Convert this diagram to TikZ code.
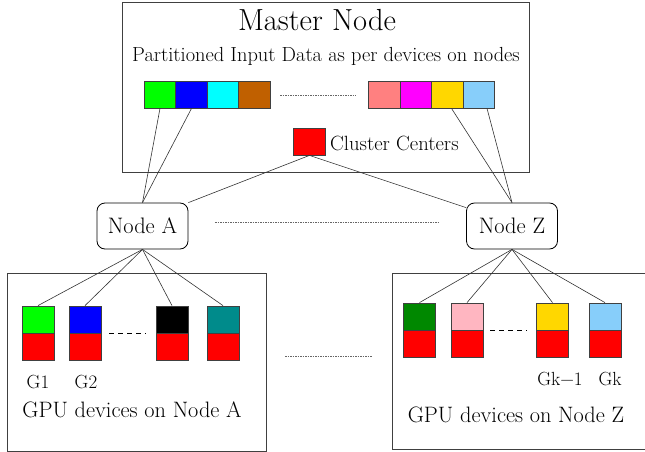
\documentclass[tikz,border=0pt]{standalone}
\usepackage{fontspec}
\usetikzlibrary{calc}
\definecolor{cgreen}{HTML}{00FF00}
\definecolor{cblue}{HTML}{0000FF}
\definecolor{ccyan}{HTML}{00FFFF}
\definecolor{cmagenta}{HTML}{FF00FF}
\definecolor{cred}{HTML}{FF0000}
\definecolor{cbrown}{HTML}{C06000}
\definecolor{csalmon}{HTML}{FF8080}
\definecolor{cgold}{HTML}{FFD700}
\definecolor{csky}{HTML}{87CEFA}
\definecolor{cteal}{HTML}{008B8B}
\definecolor{cdgreen}{HTML}{008800}
\definecolor{cpink}{HTML}{FFB6C1}
\definecolor{frame}{HTML}{404040}
\tikzset{
  panel/.style={draw=frame, line width=0.9pt},
  cell/.style={draw=frame, line width=0.8pt, inner sep=0pt, minimum width=31.5pt, minimum height=27pt},
  gcell/.style={draw=frame, line width=0.8pt, inner sep=0pt, minimum width=32pt, minimum height=27pt},
  hostnode/.style={draw=black, line width=0.8pt, rounded corners=8pt, minimum width=91pt, minimum height=46pt, font=\fontsize{22.4}{26}\selectfont},
  link/.style={draw=black!80, line width=0.6pt},
  gap/.style={draw=black!60, line width=0.6pt, dash pattern=on 1.5pt off 1pt},
  skip/.style={draw=black, line width=0.8pt, dash pattern=on 5pt off 4pt},
  lbl/.style={inner sep=0pt, font=\fontsize{19}{22}\selectfont},
  caption/.style={inner sep=0pt, font=\fontsize{22.3}{26}\selectfont},
}
\begin{document}
\begin{tikzpicture}[x=1pt, y=-1pt]
\useasboundingbox (0,0) rectangle (645,452);

% master node panel
\draw[panel] (122,2) rectangle (529,172);
\node[inner sep=0pt, font=\fontsize{30.5}{34}\selectfont] (title) at (317,20) {Master Node};
\node[inner sep=0pt, font=\fontsize{20.4}{24}\selectfont] (part) at (326,56) {Partitioned Input Data as per devices on nodes};

% partitioned input data
\node[cell, fill=cgreen]   (d1) at (160,94.5) {};
\node[cell, fill=cblue]    (d2) at (191.5,94.5) {};
\node[cell, fill=ccyan]    (d3) at (223,94.5) {};
\node[cell, fill=cbrown]   (d4) at (254.5,94.5) {};
\node[cell, fill=csalmon]  (d5) at (384.5,94.5) {};
\node[cell, fill=cmagenta] (d6) at (416,94.5) {};
\node[cell, fill=cgold]    (d7) at (447.5,94.5) {};
\node[cell, fill=csky]     (d8) at (479,94.5) {};
\coordinate (dgapL) at (280,95);
\coordinate (dgapR) at (356,95);
\draw[gap] (dgapL) -- (dgapR);

% cluster centers
\node[cell, fill=cred] (cc) at (309.5,141.5) {};
\node[inner sep=0pt, anchor=west, font=\fontsize{20.6}{24}\selectfont] (cclbl) at (330,143) {Cluster Centers};

% compute nodes
\node[hostnode] (na) at (142.5,226) {Node A};
\node[hostnode] (nz) at (512,226) {Node Z};
\coordinate (ngapL) at (215,222);
\coordinate (ngapR) at (438,222);
\draw[gap] (ngapL) -- (ngapR);

\draw[link] (d1.south) -- (na.north);
\draw[link] (d2.south) -- (na.north);
\draw[link] ($(d7.south)+(4,0)$) -- (nz.north);
\draw[link] ($(d8.south)+(8,0)$) -- (nz.north);
\draw[link] (cc.south) -- (na.north east);
\draw[link] (cc.south) -- ($(nz.north west)+(0,5)$);

% GPU panel of node A
\draw[panel] (7,273) rectangle (266,451);
\node[gcell, fill=cgreen] (a1) at (38,319.5) {};
\node[gcell, fill=cred, anchor=north] (a1r) at (a1.south) {};
\node[gcell, fill=cblue] (a2) at (85,319.5) {};
\node[gcell, fill=cred, anchor=north] (a2r) at (a2.south) {};
\node[gcell, fill=black] (a3) at (172,319.5) {};
\node[gcell, fill=cred, anchor=north] (a3r) at (a3.south) {};
\node[gcell, fill=cteal] (a4) at (223,319.5) {};
\node[gcell, fill=cred, anchor=north] (a4r) at (a4.south) {};
\coordinate (askipL) at (109,333);
\coordinate (askipR) at (146,333);
\draw[skip] (askipL) -- (askipR);
\foreach \g in {a1,a2,a3,a4} \draw[link] (na.south) -- (\g.north);
\node[lbl] (g1) at (38,382) {G1};
\node[lbl] (g2) at (86,382) {G2};
\node[caption] (alab) at (132,410) {GPU devices on Node A};

% panel gap
\coordinate (pgapL) at (285,356);
\coordinate (pgapR) at (372,356);
\draw[gap] (pgapL) -- (pgapR);

% GPU panel of node Z
\draw[panel] (646,273) -- (392,273) -- (392,449) -- (646,449);
\node[gcell, fill=cdgreen] (z1) at (419.5,316.5) {};
\node[gcell, fill=cred, anchor=north] (z1r) at (z1.south) {};
\node[gcell, fill=cpink] (z2) at (467,316.5) {};
\node[gcell, fill=cred, anchor=north] (z2r) at (z2.south) {};
\node[gcell, fill=cgold] (z3) at (552.5,316.5) {};
\node[gcell, fill=cred, anchor=north] (z3r) at (z3.south) {};
\node[gcell, fill=csky] (z4) at (605,316.5) {};
\node[gcell, fill=cred, anchor=north] (z4r) at (z4.south) {};
\coordinate (zskipL) at (490,330);
\coordinate (zskipR) at (527,330);
\draw[skip] (zskipL) -- (zskipR);
\foreach \g in {z1,z2,z3,z4} \draw[link] (nz.south) -- (\g.north);
\node[lbl] (gk1) at (560,379) {Gk−1};
\node[lbl] (gk) at (610,379) {Gk};
\node[caption] (zlab) at (516,415) {GPU devices on Node Z};
\end{tikzpicture}
\end{document}
